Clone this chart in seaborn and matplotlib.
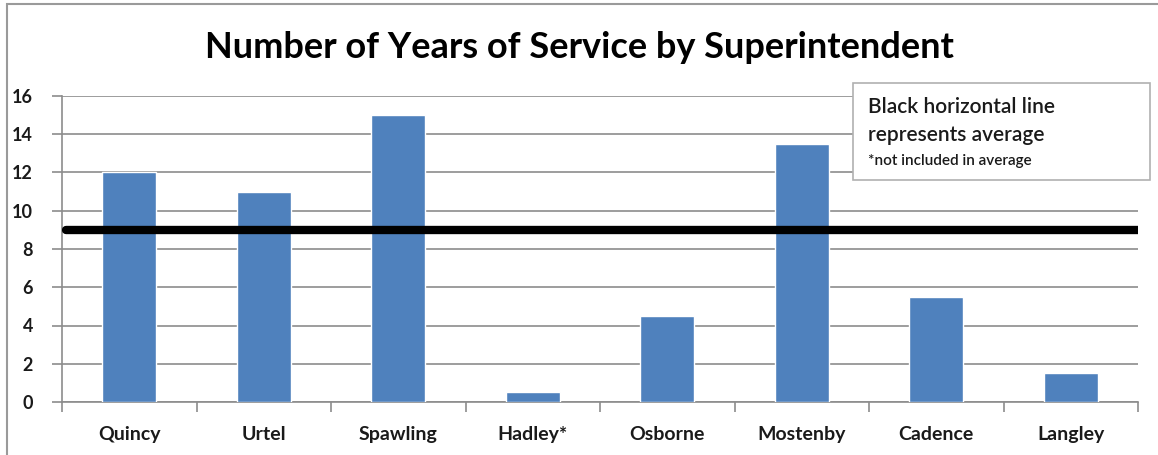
import matplotlib
matplotlib.use("Agg")
import matplotlib.pyplot as plt
from matplotlib.patches import Rectangle
from matplotlib.ticker import MultipleLocator
import pandas as pd
import seaborn as sns

superintendents = ["Quincy", "Urtel", "Spawling", "Hadley*", "Osborne",
                   "Mostenby", "Cadence", "Langley"]
years = [12, 11, 15, 0.5, 4.5, 13.5, 5.5, 1.5]
excluded = ["Hadley*"]

title = "Number of Years of Service by Superintendent"
note_lines = ["Black horizontal line", "represents average"]
note_small = "*not included in average"

df = pd.DataFrame({"name": superintendents, "years": years})
average = df.loc[~df["name"].isin(excluded), "years"].mean()

sns.set_theme(style="white")
plt.rcParams["font.family"] = ["Lato", "DejaVu Sans"]

bar_color = "#4F81BD"
grid_color = "#8C8C8C"
text_color = "#1a1a1a"

W, H = 1158, 455
fig = plt.figure(figsize=(W / 100, H / 100), dpi=100)
ax = fig.add_axes([62 / W, 1 - 402 / H, (1138 - 62) / W, (402 - 96) / H])

sns.barplot(data=df, x="name", y="years", color=bar_color, saturation=1,
            width=0.4, ax=ax, zorder=3)

ax.axhline(average, xmin=0.004, color="black", linewidth=6, zorder=4)

ax.set_xlim(-0.5, len(superintendents) - 0.5)
ax.set_ylim(0, 16)
ax.yaxis.set_major_locator(MultipleLocator(2))
ax.grid(axis="y", color=grid_color, linewidth=1.2, zorder=0)
ax.set_axisbelow(True)
ax.set_xlabel("")
ax.set_ylabel("")

for side in ("top", "right"):
    ax.spines[side].set_visible(False)
for side in ("left", "bottom"):
    ax.spines[side].set_color(grid_color)
    ax.spines[side].set_linewidth(1.2)

ax.xaxis.set_minor_locator(MultipleLocator(1, offset=0.5))
ax.tick_params(axis="x", which="major", length=0, pad=17,
               labelsize=14, labelcolor=text_color)
ax.tick_params(axis="x", which="minor", bottom=True, length=7,
               color=grid_color, width=1.2)
ax.tick_params(axis="y", which="major", left=True, length=7,
               color=grid_color, width=1.2, pad=14,
               labelsize=13, labelcolor=text_color)
for lbl in ax.get_xticklabels() + ax.get_yticklabels():
    lbl.set_fontweight("bold")

fig.text(0.5, 1 - 47 / H, title, ha="center", va="center",
         fontsize=26, fontweight="bold", color="black")

# outer chart frame
fig.patches.append(Rectangle((7 / W, -0.01), 1.2, 1 - 4 / H + 0.01,
                             transform=fig.transFigure, fill=False,
                             edgecolor="#9a9a9a", linewidth=1.5))

# note box
fig.patches.append(Rectangle((853 / W, 1 - 180 / H), (1150 - 853) / W,
                             (180 - 83) / H, transform=fig.transFigure,
                             facecolor="white", edgecolor="#b0b0b0",
                             linewidth=1.2, zorder=5))
for line, baseline in zip(note_lines, (113, 141)):
    fig.text(868 / W, 1 - baseline / H, line, ha="left", va="baseline",
             fontsize=15, fontweight="semibold", color=text_color, zorder=6)
fig.text(868 / W, 1 - 165 / H, note_small, ha="left", va="baseline",
         fontsize=11, fontweight="semibold", color=text_color, zorder=6)

fig.savefig("out.png", dpi=100)
